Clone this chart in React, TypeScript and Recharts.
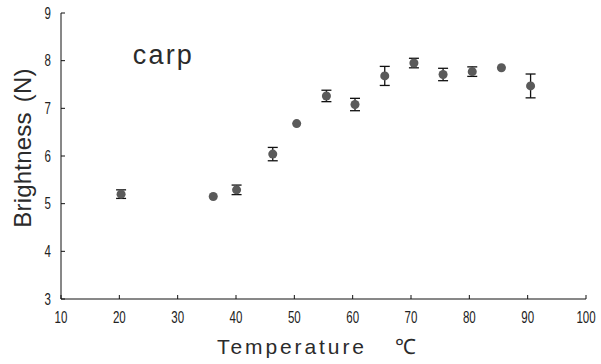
import React from "react";
import { ScatterChart, Scatter, XAxis, YAxis, ErrorBar, ReferenceDot } from "recharts";

const temperatures = [20.3, 36.1, 40.1, 46.3, 50.4, 55.5, 60.4, 65.5, 70.5, 75.5, 80.5, 85.5, 90.5];
const brightness = [5.2, 5.15, 5.29, 6.04, 6.68, 7.26, 7.08, 7.68, 7.95, 7.71, 7.77, 7.85, 7.47];
const errors = [0.09, 0, 0.1, 0.14, 0, 0.12, 0.13, 0.2, 0.1, 0.13, 0.1, 0, 0.25];
const xTicks = [10, 20, 30, 40, 50, 60, 70, 80, 90, 100];
const yTicks = [3, 4, 5, 6, 7, 8, 9];

const data = temperatures.map((t, i) => ({ t, b: brightness[i], err: errors[i] }));

const tickFont = "'Liberation Sans', Arial, sans-serif";
const labelFont = "'Liberation Sans', Arial, Helvetica, sans-serif";
const ink = "#2b2b2b";

const NarrowTick = (props: any) => {
  const { x, y, payload, textAnchor, vertical } = props;
  const dy = vertical ? "0.36em" : "0.71em";
  return (
    <g transform={`translate(${x},${y}) scale(0.72,1)`}>
      <text x={0} y={0} dy={dy} textAnchor={textAnchor} fill="#222" fontFamily={tickFont} fontSize={16}>
        {payload.value}
      </text>
    </g>
  );
};

const XLabel = (props: any) => {
  const vb = props.viewBox || {};
  const cx = vb.x + vb.width / 2;
  const y = vb.y + vb.height + 25;
  return (
    <text x={cx - 7} y={y} fill={ink} fontFamily={labelFont} fontSize={21} textAnchor="middle" letterSpacing={2.9}>
      <tspan>Temperature</tspan>
      <tspan dx={28} letterSpacing={0}>℃</tspan>
    </text>
  );
};

const YLabel = (props: any) => {
  const vb = props.viewBox || {};
  const cx = vb.x + 1;
  const cy = vb.y + vb.height / 2 - 8;
  return (
    <text
      x={cx}
      y={cy}
      fill={ink}
      fontFamily={labelFont}
      fontSize={24}
      letterSpacing={0.2}
      textAnchor="middle"
      dominantBaseline="central"
      transform={`rotate(-90 ${cx} ${cy})`}
    >
      <tspan>Brightness</tspan>
      <tspan dx={10}>(N)</tspan>
    </text>
  );
};

const CarpLabel = (props: any) => {
  const vb = props.viewBox || {};
  return (
    <text x={vb.x} y={vb.y} fill={ink} fontFamily={labelFont} fontSize={27} letterSpacing={2.2}>
      carp
    </text>
  );
};

export default function App() {
  return (
    <div style={{ position: "absolute", left: 0, top: 0, width: 601, height: 364, background: "#fff" }}>
      <ScatterChart width={601} height={364} margin={{ top: 13, right: 15, bottom: 35, left: 21 }}>
        <XAxis
          type="number"
          dataKey="t"
          domain={[10, 100]}
          ticks={xTicks}
          interval={0}
          allowDataOverflow
          height={30}
          stroke="#111"
          tickSize={-4}
          tickMargin={17}
          tick={<NarrowTick vertical={false} />}
          label={<XLabel />}
        />
        <YAxis
          type="number"
          dataKey="b"
          domain={[3, 9]}
          ticks={yTicks}
          interval={0}
          width={40}
          stroke="#111"
          tickSize={-4}
          tickMargin={14}
          tick={<NarrowTick vertical={true} />}
          label={<YLabel />}
        />
        <ReferenceDot x={22.3} y={7.94} r={0} stroke="none" fill="none" label={<CarpLabel />} />
        <Scatter data={data} fill="#5a5a5a" isAnimationActive={false} shape="circle">
          <ErrorBar dataKey="err" direction="y" width={5} stroke="#111" strokeWidth={1.3} />
        </Scatter>
      </ScatterChart>
    </div>
  );
}
